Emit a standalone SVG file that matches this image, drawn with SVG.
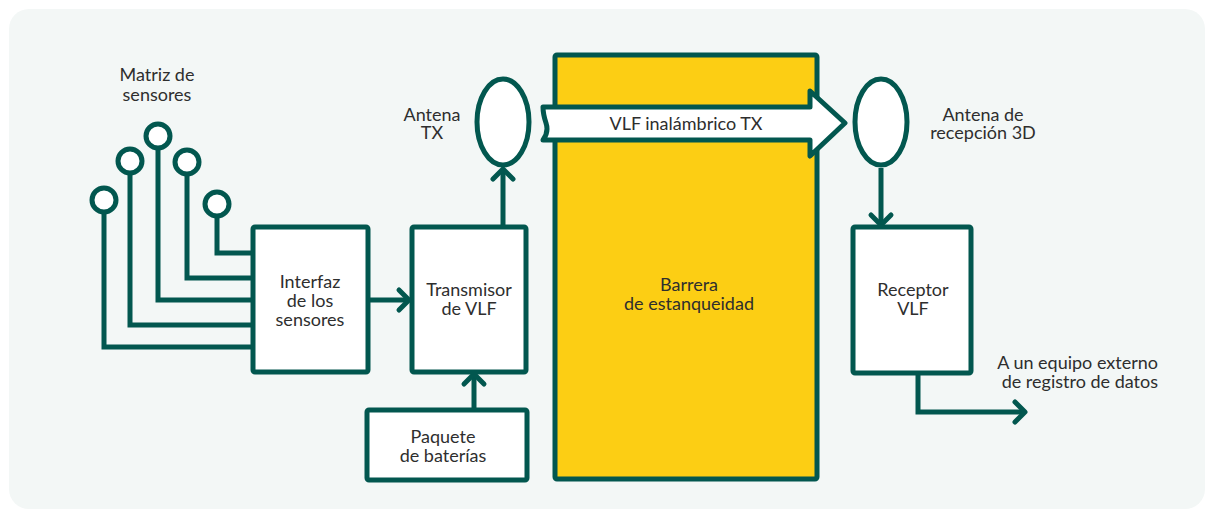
<svg xmlns="http://www.w3.org/2000/svg" width="1214" height="518" viewBox="0 0 1214 518">
  <defs>
    <style>
      .bg { fill: #F3F7F6; }
      .box { fill: #FFFFFF; stroke: #02574F; stroke-width: 5; stroke-linejoin: round; }
      .wire { fill: none; stroke: #02574F; stroke-width: 5; stroke-linejoin: miter; }
      .head { fill: none; stroke: #02574F; stroke-width: 5; stroke-linecap: round; stroke-linejoin: round; }
      .barrier { fill: #FCCE14; stroke: #02574F; stroke-width: 5; stroke-linejoin: round; }
      .lbl { font-family: Lato, "Liberation Sans", sans-serif; font-size: 18px; fill: #2E2E2E; text-anchor: middle; }
      .end { text-anchor: end; }
    </style>
  </defs>

  <rect class="bg" x="9" y="9" width="1196" height="500" rx="20" ry="20"/>

  <!-- sensor array -->
  <g id="sensor-array">
    <g class="wire">
      <path d="M104 212 V347 H253"/>
      <path d="M130 172 V325 H253"/>
      <path d="M158 148 V300 H253"/>
      <path d="M187 174 V278 H253"/>
      <path d="M217 216 V253 H253"/>
    </g>
    <g class="box">
      <circle cx="104" cy="200" r="12"/>
      <circle cx="130" cy="161" r="12"/>
      <circle cx="158" cy="136" r="12"/>
      <circle cx="187" cy="162" r="12"/>
      <circle cx="217" cy="204" r="12"/>
    </g>
    <text class="lbl" x="157" y="81">Matriz de</text>
    <text class="lbl" x="157" y="101">sensores</text>
  </g>

  <!-- connectors -->
  <g id="connectors">
    <path class="wire" d="M368 300 H408"/>
    <path class="head" d="M399 290 L409 300 L399 310"/>
    <path class="wire" d="M503 227 V170"/>
    <path class="head" d="M493 179 L503 169 L513 179"/>
    <path class="wire" d="M474 410 V375"/>
    <path class="head" d="M464 384 L474 374 L484 384"/>
    <path class="wire" d="M881 168 V224"/>
    <path class="head" d="M871 215 L881 225 L891 215"/>
    <path class="wire" d="M918 373 V412 H1024"/>
    <path class="head" d="M1015 402 L1025 412 L1015 422"/>
  </g>

  <!-- sealing barrier -->
  <g id="barrier">
    <rect class="barrier" x="555" y="55" width="262" height="424" rx="2"/>
    <text class="lbl" x="689" y="291">Barrera</text>
    <text class="lbl" x="689" y="310">de estanqueidad</text>
  </g>

  <!-- wireless link -->
  <g id="wireless-link">
    <path class="box" d="M543 107 H810 V91 L845 123 L810 156 V140 H543 Q549 132 546 123 Q543 114 543 107 Z"/>
    <text class="lbl" x="686" y="130">VLF inalámbrico TX</text>
  </g>

  <g id="sensor-interface">
    <rect class="box" x="253" y="227" width="115" height="145" rx="2"/>
    <text class="lbl" x="310" y="288">Interfaz</text>
    <text class="lbl" x="310" y="307">de los</text>
    <text class="lbl" x="310" y="326">sensores</text>
  </g>

  <g id="vlf-transmitter">
    <rect class="box" x="412" y="227" width="114" height="145" rx="2"/>
    <text class="lbl" x="469" y="296">Transmisor</text>
    <text class="lbl" x="469" y="315">de VLF</text>
  </g>

  <g id="battery-pack">
    <rect class="box" x="367" y="410" width="160" height="70" rx="2"/>
    <text class="lbl" x="443" y="443">Paquete</text>
    <text class="lbl" x="443" y="462">de baterías</text>
  </g>

  <g id="tx-antenna">
    <ellipse class="box" cx="503" cy="122" rx="26" ry="43"/>
    <text class="lbl" x="432" y="121">Antena</text>
    <text class="lbl" x="432" y="139">TX</text>
  </g>

  <g id="rx-antenna">
    <ellipse class="box" cx="881" cy="122" rx="26" ry="43"/>
    <text class="lbl" x="983" y="121">Antena de</text>
    <text class="lbl" x="983" y="139">recepción 3D</text>
  </g>

  <g id="vlf-receiver">
    <rect class="box" x="853" y="227" width="118" height="146" rx="2"/>
    <text class="lbl" x="913" y="296">Receptor</text>
    <text class="lbl" x="913" y="315">VLF</text>
  </g>

  <g id="output-label">
    <text class="lbl end" x="1158" y="369">A un equipo externo</text>
    <text class="lbl end" x="1158" y="388">de registro de datos</text>
  </g>
</svg>
